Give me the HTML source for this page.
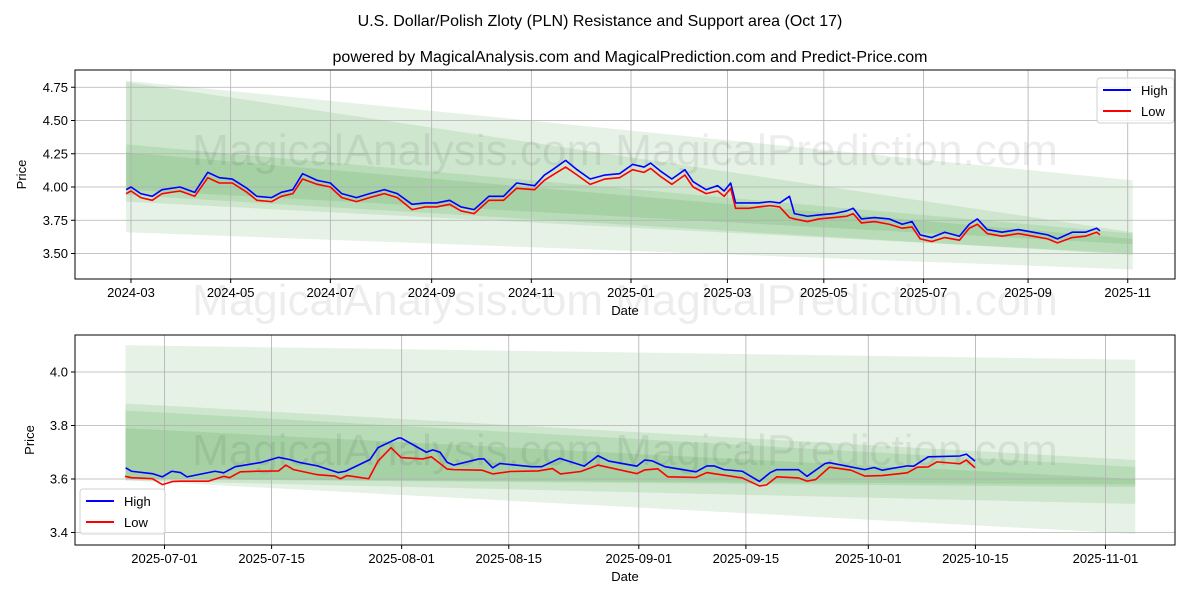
<!DOCTYPE html>
<html><head><meta charset="utf-8"><style>
body{margin:0;background:#fff;}
svg text{font-family:"Liberation Sans","DejaVu Sans",sans-serif;}
</style></head><body>
<svg id="chart" width="1200" height="600" xmlns="http://www.w3.org/2000/svg">
<rect width="1200" height="600" fill="#fff"/>
<text x="600" y="26" font-size="16" text-anchor="middle">U.S. Dollar/Polish Zloty (PLN) Resistance and Support area (Oct 17)</text>
<text x="630" y="62" font-size="16" text-anchor="middle">powered by MagicalAnalysis.com and MagicalPrediction.com and Predict-Price.com</text>
<g id="top"></g><g id="bot"></g>
</svg>
<script>
// Top chart data: days since 2024-03-01
const topDays=[-3,0,6,13,19,30,39,47,54,62,71,77,86,92,99,105,114,122,129,138,146,155,163,172,180,187,195,202,210,219,228,236,247,253,258,266,273,281,290,299,307,314,318,324,331,339,344,352,359,363,367,370,378,384,391,397,403,406,414,421,430,438,442,447,455,464,472,478,483,490,498,507,513,518,524,533,543,552,561,567,576,584,591,593];
const topHigh=[3.98,4.00,3.95,3.93,3.98,4.00,3.96,4.11,4.07,4.06,3.99,3.93,3.92,3.96,3.98,4.10,4.05,4.03,3.95,3.92,3.95,3.98,3.95,3.87,3.88,3.88,3.90,3.85,3.83,3.93,3.93,4.03,4.01,4.09,4.13,4.20,4.13,4.06,4.09,4.10,4.17,4.15,4.18,4.12,4.06,4.13,4.04,3.98,4.01,3.97,4.03,3.88,3.88,3.88,3.89,3.88,3.93,3.80,3.78,3.79,3.80,3.82,3.84,3.76,3.77,3.76,3.72,3.74,3.64,3.62,3.66,3.63,3.72,3.76,3.68,3.66,3.68,3.66,3.64,3.61,3.66,3.66,3.69,3.67];
const topLow=[3.95,3.97,3.92,3.90,3.95,3.97,3.93,4.07,4.03,4.03,3.96,3.90,3.89,3.93,3.95,4.06,4.02,4.00,3.92,3.89,3.92,3.95,3.92,3.83,3.85,3.85,3.87,3.82,3.80,3.90,3.90,3.99,3.98,4.05,4.09,4.15,4.09,4.02,4.06,4.07,4.13,4.11,4.14,4.08,4.02,4.09,4.00,3.95,3.97,3.93,3.99,3.84,3.84,3.85,3.86,3.85,3.77,3.76,3.74,3.76,3.77,3.78,3.80,3.73,3.74,3.72,3.69,3.70,3.61,3.59,3.62,3.60,3.69,3.72,3.65,3.63,3.65,3.63,3.61,3.58,3.62,3.63,3.66,3.64];
const topTickVals=[4.75,4.50,4.25,4.00,3.75,3.50];
const topTickLabels=["4.75","4.50","4.25","4.00","3.75","3.50"];
const topXTickDays=[0,61,122,184,245,306,365,424,485,549,610];
const topXTickLabels=["2024-03","2024-05","2024-07","2024-09","2024-11","2025-01","2025-03","2025-05","2025-07","2025-09","2025-11"];
const topBandStart=-3, topBandEnd=613;
const topBandUp0=[4.80,4.79,4.32,4.26], topBandUp1=[4.05,3.66,3.65,3.61];
const topBandLo0=[3.66,3.89,3.94,3.98], topBandLo1=[3.38,3.50,3.49,3.57];
// Bottom chart data: days since 2025-07-01
const botHighDays=[-5.08,-4.32,-1.59,-0.27,0.96,2.09,2.94,6.61,7.74,9.25,12.64,14.90,16.32,17.64,19.99,22.73,23.67,26.87,27.91,30.55,30.93,34.23,35.07,36.02,36.96,37.81,41.11,41.77,42.90,43.84,47.99,49.31,51.66,54.87,56.66,58.07,61.75,62.78,63.73,65.42,69.48,70.89,71.83,73.15,75.51,77.77,79.18,80.03,82.86,83.99,86.35,86.91,91.53,92.76,93.79,97.09,97.94,99.83,103.97,104.82,105.95];
const botHigh=[3.642,3.629,3.620,3.608,3.629,3.624,3.608,3.629,3.623,3.646,3.662,3.681,3.673,3.662,3.649,3.624,3.629,3.673,3.717,3.753,3.753,3.700,3.709,3.700,3.662,3.652,3.675,3.675,3.642,3.658,3.646,3.646,3.677,3.648,3.687,3.667,3.648,3.671,3.668,3.646,3.627,3.649,3.649,3.635,3.629,3.591,3.624,3.635,3.635,3.610,3.658,3.661,3.635,3.643,3.633,3.649,3.648,3.683,3.686,3.693,3.667];
const botLowDays=[-5.17,-4.32,-1.59,-0.27,1.14,2.09,5.76,7.74,8.50,9.91,12.17,14.90,15.85,16.88,19.99,22.26,23.01,23.86,26.69,27.91,29.61,30.93,33.76,34.88,36.96,37.81,41.48,42.90,45.16,48.84,50.72,51.76,54.40,56.66,61.75,62.78,64.48,65.80,69.48,70.89,75.51,77.77,78.71,80.03,82.86,83.99,85.12,86.91,89.74,91.53,93.79,97.09,98.41,99.83,100.96,103.97,104.82,105.95];
const botLow=[3.610,3.605,3.601,3.579,3.591,3.592,3.592,3.610,3.605,3.627,3.629,3.630,3.652,3.635,3.616,3.611,3.601,3.613,3.601,3.667,3.717,3.680,3.675,3.683,3.637,3.635,3.633,3.619,3.628,3.630,3.639,3.619,3.628,3.652,3.620,3.634,3.638,3.608,3.606,3.624,3.604,3.574,3.578,3.608,3.604,3.592,3.598,3.644,3.633,3.611,3.613,3.623,3.644,3.645,3.664,3.657,3.671,3.642];
const botTickVals=[4.0,3.8,3.6,3.4];
const botTickLabels=["4.0","3.8","3.6","3.4"];
const botXTickDays=[0,14,31,45,62,76,92,106,123];
const botXTickLabels=["2025-07-01","2025-07-15","2025-08-01","2025-08-15","2025-09-01","2025-09-15","2025-10-01","2025-10-15","2025-11-01"];
const botBandStart=-5.1, botBandEnd=126.9;
const botBandUp0=[4.10,3.882,3.856,3.79], botBandUp1=[4.046,3.671,3.645,3.60];
const botBandLo0=[3.595,3.595,3.60,3.60], botBandLo1=[3.395,3.507,3.57,3.58];

const NS="http://www.w3.org/2000/svg";
function mk(parent,tag,attrs){const e=document.createElementNS(NS,tag);for(const k in attrs)e.setAttribute(k,attrs[k]);parent.appendChild(e);return e;}

function drawPanel(g,o){
  const X=d=>o.x0+(d-o.d0)*o.ppd;
  const Y=v=>o.y0-(v-o.v0)*o.ppv;
  for(let i=0;i<o.up0.length;i++){
    const p=mk(g,'polygon',{points:`${X(o.bs)},${Y(o.up0[i])} ${X(o.be)},${Y(o.up1[i])} ${X(o.be)},${Y(o.lo1[i])} ${X(o.bs)},${Y(o.lo0[i])}`,fill:'rgba(0,128,0,0.1)'});
    
    
  }
  o.xt.forEach((d,i)=>{
    const l=mk(g,'line',{x1:X(d),x2:X(d),y1:o.top,y2:o.bot,stroke:'#b0b0b0','stroke-width':0.8});
    
    
    mk(g,'line',{x1:X(d),x2:X(d),y1:o.bot,y2:o.bot+4,stroke:'#000'});
    const t=mk(g,'text',{x:X(d),y:o.bot+18,'font-size':13,'text-anchor':'middle'});t.textContent=o.xl[i];
    
    
  });
  o.yt.forEach((v,i)=>{
    const l=mk(g,'line',{x1:o.left,x2:o.right,y1:Y(v),y2:Y(v),stroke:'#b0b0b0','stroke-width':0.8});
    
    
    mk(g,'line',{x1:o.left-4,x2:o.left,y1:Y(v),y2:Y(v),stroke:'#000'});
    const t=mk(g,'text',{x:o.left-7,y:Y(v)+4.5,'font-size':13,'text-anchor':'end'});t.textContent=o.yl[i];
    
    
  });
  o.wm.forEach(y=>{
    const t=mk(g,'text',{x:(o.left+o.right)/2,y:y,'font-size':44,'text-anchor':'middle',fill:'rgba(0,0,0,0.07)'});
    t.textContent='MagicalAnalysis.com    MagicalPrediction.com';
    
    
  });
  const hp=mk(g,'polyline',{points:o.hd.map((d,i)=>X(d)+','+Y(o.hv[i])).join(' '),fill:'none',stroke:'#0000ff','stroke-width':1.6,'stroke-linejoin':'round'});
  
  
  const lp=mk(g,'polyline',{points:o.ld.map((d,i)=>X(d)+','+Y(o.lv[i])).join(' '),fill:'none',stroke:'#ff0000','stroke-width':1.6,'stroke-linejoin':'round'});
  
  
  const fr=mk(g,'rect',{x:o.left,y:o.top,width:o.right-o.left,height:o.bot-o.top,fill:'none',stroke:'#000','stroke-width':1});
  
  
  const xl=mk(g,'text',{x:(o.left+o.right)/2,y:o.bot+36,'font-size':13,'text-anchor':'middle'});xl.textContent='Date';
  
  
  const yl=mk(g,'text',{x:0,y:0,'font-size':13,'text-anchor':'middle',transform:`translate(${o.ylx},${(o.top+o.bot)/2}) rotate(-90)`});yl.textContent='Price';
  
  
  const lg=mk(g,'g',{});
  
  
  mk(lg,'rect',{x:o.lgx,y:o.lgy,width:o.lgw,height:45,rx:3,fill:'rgba(255,255,255,0.8)',stroke:'#d0d0d0'});
  [['High','#0000ff'],['Low','#ff0000']].forEach((e,i)=>{
    const en=mk(lg,'g',{});
    
    
    mk(en,'line',{x1:o.lgx+6,x2:o.lgx+34,y1:o.lgy+12+i*21,y2:o.lgy+12+i*21,stroke:e[1],'stroke-width':2});
    const t=mk(en,'text',{x:o.lgx+44,y:o.lgy+17+i*21,'font-size':13});t.textContent=e[0];
  });
}
drawPanel(document.getElementById('top'),{x0:131,d0:0,ppd:1.634,y0:187,v0:4.0,ppv:133,left:75,right:1175,top:70,bot:279,
  bs:topBandStart,be:topBandEnd,up0:topBandUp0,up1:topBandUp1,lo0:topBandLo0,lo1:topBandLo1,
  xt:topXTickDays,xl:topXTickLabels,yt:topTickVals,yl:topTickLabels,wm:[165,315],
  hd:topDays,hv:topHigh,ld:topDays,lv:topLow,ylx:26,lgx:1097,lgy:78,lgw:77});
drawPanel(document.getElementById('bot'),{x0:164.5,d0:0,ppd:7.65,y0:479,v0:3.6,ppv:267.5,left:75,right:1175,top:335,bot:545,
  bs:botBandStart,be:botBandEnd,up0:botBandUp0,up1:botBandUp1,lo0:botBandLo0,lo1:botBandLo1,
  xt:botXTickDays,xl:botXTickLabels,yt:botTickVals,yl:botTickLabels,wm:[465],
  hd:botHighDays,hv:botHigh,ld:botLowDays,lv:botLow,ylx:34,lgx:80,lgy:489,lgw:85});
</script>
</body></html>
